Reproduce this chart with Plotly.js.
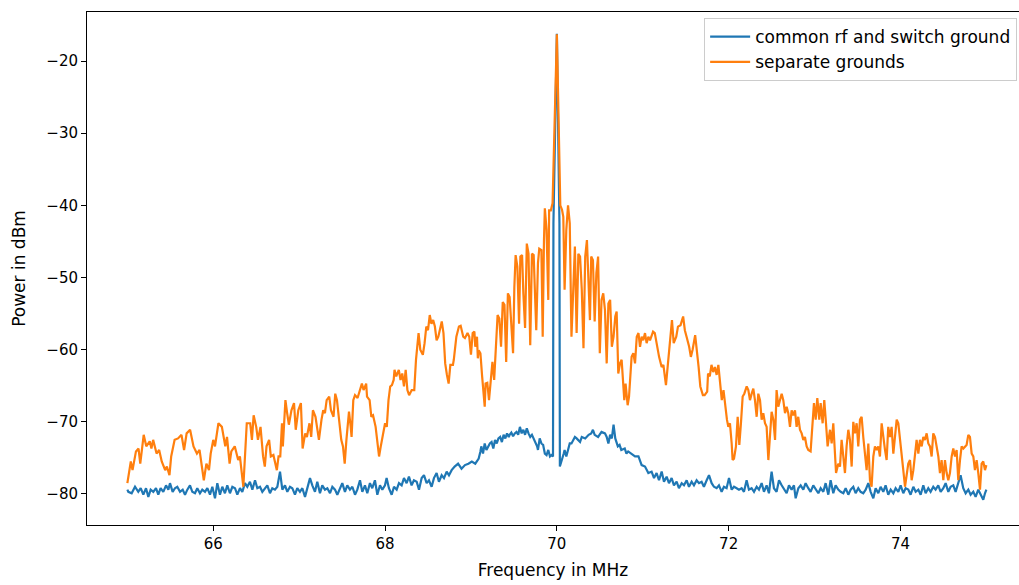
<!DOCTYPE html>
<html>
<head>
<meta charset="utf-8">
<script src="https://cdn.plot.ly/plotly-3.0.1.min.js"></script>
<style>html,body{margin:0;padding:0;background:#fff;}#chart{width:1019px;height:585px;}</style>
</head>
<body>
<div id="chart"></div>
<script>
// Series names
const seriesNames = ["common rf and switch ground", "separate grounds"];

// Series 1: common rf and switch ground (frequency in MHz, power in dBm)
const blueFreq = [65.000,65.011,65.050,65.089,65.127,65.155,65.186,65.217,65.244,65.271,65.302,65.333,65.360,65.387,65.418,65.450,65.477,65.496,65.527,65.554,65.581,65.613,65.644,65.671,65.698,65.729,65.756,65.787,65.814,65.845,65.872,65.904,65.931,65.962,65.989,66.020,66.047,66.078,66.105,66.136,66.163,66.194,66.222,66.253,66.280,66.311,66.338,66.369,66.396,66.427,66.455,66.486,66.513,66.544,66.571,66.602,66.629,66.660,66.687,66.718,66.746,66.777,66.804,66.835,66.862,66.893,66.920,66.951,66.978,67.009,67.037,67.068,67.095,67.126,67.153,67.184,67.211,67.242,67.269,67.300,67.328,67.359,67.386,67.417,67.444,67.475,67.502,67.533,67.560,67.591,67.619,67.650,67.677,67.708,67.735,67.766,67.793,67.824,67.851,67.882,67.910,67.941,67.968,67.999,68.018,68.045,68.077,68.104,68.135,68.162,68.193,68.220,68.251,68.278,68.309,68.336,68.368,68.395,68.426,68.453,68.484,68.511,68.542,68.569,68.600,68.627,68.659,68.686,68.717,68.744,68.775,
68.81,68.85,68.89,68.93,68.97,69.01,69.05,69.09,69.11,69.12,69.14,69.16,69.18,69.20,69.22,69.24,69.26,69.28,69.30,69.32,69.34,69.36,69.38,69.40,69.42,69.44,69.45,69.47,69.49,69.51,69.53,69.55,69.57,69.59,69.61,69.63,69.65,69.67,69.69,69.71,69.73,69.75,69.77,69.78,69.80,69.82,69.84,69.86,69.88,69.90,69.92,69.94,69.955,69.96,70.00,70.03,70.035,
70.08,70.09,70.11,70.13,70.15,70.17,70.19,70.21,70.23,70.25,70.27,70.29,70.33,70.37,70.40,70.42,70.44,70.48,70.52,70.56,70.58,70.60,70.62,70.64,70.66,70.68,70.70,70.71,70.73,70.75,70.79,70.81,70.83,70.87,70.91,70.95,70.987,
71.026,71.065,71.103,71.131,71.161,71.189,71.220,71.247,71.278,71.305,71.336,71.363,71.394,71.421,71.453,71.480,71.511,71.538,71.569,71.596,71.627,71.654,71.685,71.712,71.744,71.771,71.802,71.829,71.860,71.887,71.918,71.945,71.976,72.004,72.035,72.062,72.093,72.120,72.151,72.178,72.209,72.236,72.267,72.295,72.326,72.353,72.384,72.411,72.442,72.469,72.500,72.527,72.558,72.586,72.617,72.644,72.675,72.702,72.733,72.760,72.780,72.811,72.838,72.869,72.896,72.927,72.954,72.985,73.012,73.044,73.071,73.102,73.129,73.160,73.187,73.218,73.245,73.276,73.304,73.335,73.362,73.393,73.420,73.451,73.478,73.509,73.536,73.567,73.595,73.626,73.653,73.684,73.711,73.742,73.769,73.800,73.827,73.858,73.886,73.917,73.944,73.975,74.002,74.033,74.060,74.091,74.118,74.150,74.177,74.208,74.235,74.266,74.293,74.324,74.351,74.382,74.409,74.440,74.468,74.499,74.526,74.557,74.584,74.615,74.642,74.673,74.700,74.731,74.759,74.790,74.817,74.848,74.875,74.906,74.933,74.964,74.984,75.000];
const bluePower = [-79.4,-79.7,-79.9,-79.0,-79.7,-79.2,-80.1,-79.2,-80.4,-79.4,-79.7,-79.2,-80.1,-79.2,-79.7,-78.8,-79.4,-78.5,-79.7,-79.2,-79.0,-79.7,-79.4,-80.1,-79.4,-78.8,-79.7,-79.9,-79.2,-79.9,-79.4,-79.7,-79.2,-80.1,-79.0,-80.6,-78.5,-80.1,-79.0,-79.9,-78.8,-79.9,-79.0,-79.2,-80.1,-79.2,-79.7,-78.5,-79.0,-78.3,-79.4,-78.1,-79.2,-79.0,-79.7,-79.2,-78.8,-79.9,-79.2,-79.4,-79.0,-76.9,-79.4,-78.8,-79.7,-79.0,-79.2,-80.1,-79.2,-79.7,-79.2,-80.4,-79.2,-77.8,-78.8,-79.7,-78.3,-79.9,-78.8,-79.4,-79.2,-79.9,-79.0,-79.4,-80.1,-79.2,-78.5,-79.7,-78.8,-79.4,-79.0,-80.1,-79.4,-78.1,-79.7,-78.8,-79.9,-78.5,-79.2,-78.1,-80.1,-78.8,-79.4,-78.8,-77.8,-79.2,-80.1,-79.0,-79.4,-78.5,-78.8,-77.8,-78.5,-77.6,-78.8,-78.1,-78.3,-79.4,-77.8,-77.4,-78.5,-78.1,-79.0,-77.8,-77.1,-78.3,-77.4,-77.8,-76.9,-77.4,-76.7,
-76.2,-75.8,-76.5,-76.0,-75.8,-75.5,-75.8,-75.1,-74.1,-73.4,-74.4,-73.0,-73.9,-73.4,-73.0,-72.8,-73.7,-72.5,-73.0,-72.3,-72.1,-72.8,-71.8,-72.3,-71.6,-72.1,-71.8,-71.5,-72.0,-71.6,-71.4,-71.8,-70.7,-71.6,-71.1,-71.8,-70.9,-71.6,-72.1,-71.8,-72.3,-73.0,-73.4,-73.9,-72.3,-73.0,-73.2,-74.4,-74.6,-73.9,-74.8,-74.6,-74.8,-42.5,-16.2,-42.5,-76.2,
-74.4,-73.9,-74.8,-73.7,-73.0,-73.0,-72.5,-72.1,-72.3,-72.5,-72.8,-72.1,-72.3,-71.8,-71.6,-71.1,-71.8,-72.1,-71.4,-71.6,-72.1,-73.0,-71.8,-72.3,-70.4,-72.3,-73.0,-73.4,-73.2,-73.9,-73.7,-74.4,-74.1,-74.4,-74.8,-74.8,-76.0,
-76.2,-77.1,-76.9,-77.8,-77.1,-78.1,-76.9,-78.3,-77.6,-78.5,-77.8,-78.8,-78.3,-79.2,-78.5,-78.8,-78.1,-79.0,-78.3,-78.8,-78.1,-78.5,-78.3,-79.0,-78.1,-77.4,-78.5,-79.0,-79.2,-78.8,-79.7,-79.0,-79.2,-77.8,-79.4,-79.0,-79.2,-79.4,-79.2,-79.7,-78.1,-79.4,-79.2,-79.7,-79.0,-79.4,-78.5,-79.7,-78.8,-79.9,-76.9,-79.2,-79.7,-78.1,-78.8,-79.4,-79.9,-78.8,-79.4,-78.8,-80.6,-79.2,-78.8,-79.4,-78.5,-79.2,-79.7,-78.8,-79.4,-79.9,-79.2,-79.7,-78.5,-80.1,-78.1,-79.9,-78.8,-79.4,-79.7,-79.9,-79.2,-80.1,-79.4,-79.0,-79.9,-79.2,-79.7,-79.9,-79.4,-78.5,-79.7,-80.6,-79.2,-79.9,-79.0,-79.7,-78.8,-80.1,-79.4,-79.9,-79.2,-79.7,-78.8,-79.9,-79.2,-79.4,-80.1,-79.0,-79.7,-79.4,-80.1,-78.8,-79.9,-79.2,-79.7,-79.0,-79.4,-78.8,-79.7,-79.2,-78.5,-79.7,-79.0,-78.8,-79.7,-78.3,-77.4,-79.2,-79.9,-79.4,-80.1,-79.7,-80.4,-79.4,-80.1,-80.8,-79.9,-79.4];

// Series 2: separate grounds
const orangeFreq = [65.00,65.01,65.04,65.06,65.10,65.13,65.15,65.19,65.22,65.26,65.28,65.30,65.34,65.37,65.40,65.44,65.46,65.49,65.51,65.55,65.59,65.63,65.66,65.69,65.73,65.77,65.81,65.84,65.86,65.89,65.92,65.95,65.97,66.00,66.02,66.06,66.10,66.14,66.16,66.19,66.21,66.25,66.29,66.31,66.35,66.37,66.39,66.43,66.45,66.47,66.50,66.52,66.55,66.58,66.60,66.62,66.65,66.67,66.70,66.74,66.76,
66.78,66.80,66.81,66.84,66.86,66.88,66.91,66.94,66.96,66.99,67.02,67.04,67.07,67.09,67.12,67.14,67.16,67.19,67.21,67.23,67.26,67.28,67.30,67.32,67.35,67.37,67.40,67.42,67.44,67.47,67.49,67.51,67.53,67.55,67.58,67.60,67.61,67.63,67.65,67.68,67.71,67.73,67.75,67.78,67.79,67.82,67.84,67.86,67.89,67.91,67.93,67.95,67.98,68.00,68.02,68.04,68.06,68.08,68.10,68.11,68.13,68.16,68.18,68.20,68.22,68.24,68.26,68.28,68.31,68.34,68.36,68.38,68.39,68.41,68.44,68.46,68.48,68.50,68.52,68.54,68.56,68.58,68.60,68.62,68.64,68.66,68.68,68.70,68.72,68.74,68.76,68.79,68.80,68.83,68.86,
68.88,68.91,68.93,68.96,68.98,69.00,69.02,69.04,69.05,69.07,69.08,69.09,69.11,69.13,69.16,69.17,69.19,69.21,69.23,69.25,69.27,69.29,69.31,69.33,69.35,69.37,69.39,69.41,69.43,69.45,69.47,69.49,69.505,69.52,69.54,69.56,69.575,69.595,69.61,69.63,69.65,69.67,69.69,69.71,69.73,69.745,69.76,69.78,69.795,69.82,69.835,69.85,69.86,69.88,69.90,69.91,69.93,69.94,69.95,70.00,
70.04,70.06,70.075,70.09,70.11,70.13,70.15,70.17,70.19,70.21,70.23,70.25,70.27,70.29,70.31,70.33,70.35,70.37,70.385,70.40,70.42,70.44,70.46,70.48,70.50,70.52,70.54,70.56,70.58,70.60,70.62,70.64,70.66,70.68,70.696,70.715,70.735,70.754,70.774,70.785,70.80,70.824,70.84,70.855,70.87,70.89,70.91,70.93,70.95,70.968,70.987,71.006,71.026,71.045,71.065,
71.084,71.12,71.14,71.16,71.19,71.22,71.24,71.27,71.29,71.31,71.34,71.36,71.39,71.41,71.44,71.47,71.49,71.51,71.54,71.56,71.58,71.61,71.63,71.65,71.67,71.70,71.72,71.75,71.76,71.78,71.80,71.82,71.84,71.86,71.88,71.90,71.92,71.94,71.96,71.98,71.996,72.015,72.035,72.046,72.062,72.085,72.105,72.124,72.143,72.163,72.182,72.21,72.229,72.248,72.268,72.287,72.306,72.326,72.345,72.365,72.384,72.403,72.423,72.442,72.462,72.481,72.50,72.52,72.54,72.558,72.578,72.597,72.617,72.636,72.656,72.675,72.694,72.714,72.733,72.753,72.772,72.791,72.81,72.83,72.85,72.869,72.888,72.908,72.927,72.954,72.974,72.993,73.013,73.032,73.055,73.071,73.094,73.113,73.133,73.152,
73.18,73.199,73.218,73.25,73.276,73.296,73.315,73.335,73.354,73.373,73.393,73.412,73.432,73.451,73.47,73.49,73.509,73.529,73.548,73.567,73.587,73.606,73.626,73.645,73.664,73.684,73.703,73.723,73.742,73.761,73.781,73.80,73.82,73.839,73.858,73.878,73.897,73.917,73.936,73.956,73.975,73.994,74.014,74.033,74.053,74.072,74.091,74.111,74.13,74.15,74.169,74.188,74.208,74.227,74.247,74.266,74.285,74.305,74.324,74.344,74.363,74.382,74.402,74.421,74.441,74.46,74.479,74.499,74.518,74.538,74.557,74.576,74.596,74.615,74.635,74.654,74.673,74.693,74.712,74.732,74.751,74.77,74.79,74.809,74.829,74.848,74.867,74.887,74.906,74.926,74.945,74.964,74.984,75.00];
const orangePower = [-78.5,-77.8,-75.5,-76.7,-74.1,-73.7,-75.8,-71.8,-73.4,-72.7,-73.7,-72.5,-74.4,-73.9,-75.5,-76.7,-76.2,-77.4,-74.8,-72.5,-72.3,-71.8,-73.9,-71.6,-71.1,-73.4,-74.4,-73.9,-75.5,-78.1,-75.8,-76.7,-74.4,-72.5,-73.4,-70.2,-70.7,-73.4,-72.1,-75.8,-74.1,-73.4,-75.3,-74.8,-79.0,-74.8,-70.2,-70.2,-72.5,-69.1,-70.7,-72.5,-70.7,-74.8,-76.2,-73.4,-72.5,-74.8,-74.6,-76.7,-74.8,
-74.8,-70.2,-73.4,-67.0,-68.8,-70.4,-68.4,-67.4,-71.1,-68.4,-67.4,-73.7,-71.6,-72.1,-70.2,-72.1,-68.4,-69.3,-70.9,-72.5,-69.7,-68.4,-68.8,-67.0,-66.5,-68.4,-69.3,-66.1,-67.0,-70.7,-72.5,-73.4,-75.8,-72.5,-68.6,-70.7,-72.1,-67.0,-66.3,-66.7,-65.4,-64.7,-65.6,-64.7,-66.5,-67.0,-69.3,-69.1,-70.7,-73.0,-74.8,-73.4,-71.6,-70.2,-70.7,-67.0,-65.1,-64.9,-64.2,-62.8,-63.7,-62.8,-64.2,-63.3,-65.1,-62.8,-65.6,-66.3,-65.6,-65.6,-61.4,-58.2,-57.7,-60.0,-60.7,-59.1,-56.8,-57.3,-55.2,-56.4,-55.9,-56.8,-58.7,-58.2,-57.3,-56.1,-57.7,-61.9,-63.5,-64.7,-62.1,-62.1,-61.4,-58.2,-56.8,
-56.7,-58.2,-58.4,-57.7,-58.2,-60.7,-57.7,-57.5,-59.6,-58.2,-61.2,-60.1,-60.5,-63.7,-67.9,-64.7,-64.6,-67.0,-64.7,-61.7,-64.2,-59.6,-55.2,-55.7,-59.6,-53.4,-53.8,-61.7,-52.2,-52.7,-56.6,-60.5,-51.3,-46.9,-48.5,-56.4,-47.1,-46.9,-52.2,-57.0,-45.3,-46.7,-59.4,-46.7,-46.9,-51.7,-57.3,-48.0,-46.0,-46.2,-58.2,-44.8,-40.4,-43.4,-53.1,-40.7,-40.7,-40.2,-39.7,-16.3,
-40.0,-40.6,-41.6,-51.7,-43.4,-40.0,-42.5,-58.2,-51.3,-45.7,-57.7,-46.7,-47.1,-51.7,-59.8,-47.1,-44.8,-51.7,-55.9,-47.1,-47.6,-56.1,-49.4,-47.1,-60.5,-53.1,-52.2,-54.5,-61.9,-53.6,-53.1,-59.6,-58.2,-55.4,-54.7,-63.3,-61.9,-61.4,-64.7,-67.0,-64.7,-67.7,-66.5,-62.8,-61.0,-60.5,-61.9,-58.2,-57.7,-59.6,-58.2,-58.7,-57.7,-59.1,-58.2,
-58.7,-57.5,-57.7,-59.1,-61.0,-62.4,-62.1,-64.9,-62.4,-60.5,-55.9,-59.1,-58.2,-56.8,-56.6,-55.4,-57.3,-58.2,-59.6,-61.0,-60.0,-58.0,-60.0,-62.4,-65.1,-66.3,-66.3,-65.8,-63.3,-63.7,-62.1,-63.1,-62.4,-63.5,-62.1,-64.7,-67.0,-65.6,-67.9,-69.7,-70.7,-70.2,-73.0,-75.3,-75.1,-73.4,-69.3,-73.2,-70.2,-66.5,-66.1,-65.1,-65.6,-67.0,-66.1,-65.4,-67.0,-69.3,-66.1,-67.0,-69.7,-68.8,-70.2,-70.7,-75.3,-71.6,-68.6,-69.7,-72.5,-65.6,-67.9,-67.0,-66.1,-67.0,-68.8,-67.9,-68.8,-70.7,-68.4,-69.1,-68.4,-70.7,-69.3,-71.1,-71.6,-72.5,-72.1,-73.4,-73.9,-74.1,-69.7,-67.4,-69.7,-66.7,-69.7,-67.4,-70.2,-67.0,-70.2,-73.4,
-71.1,-73.0,-70.2,-77.1,-75.8,-76.2,-72.5,-75.3,-77.1,-73.4,-71.1,-72.5,-76.2,-70.0,-71.6,-70.2,-73.4,-69.7,-69.3,-72.1,-74.8,-76.7,-73.0,-78.1,-79.0,-74.8,-73.4,-73.9,-73.4,-74.8,-70.2,-72.5,-73.9,-75.3,-70.7,-72.1,-70.7,-74.4,-72.1,-69.7,-70.2,-72.1,-74.8,-76.7,-79.0,-77.1,-75.8,-75.3,-78.1,-76.7,-74.8,-72.5,-74.4,-72.5,-73.4,-72.1,-72.5,-71.6,-73.0,-73.4,-74.8,-71.6,-72.1,-73.4,-74.8,-77.1,-75.3,-78.1,-75.3,-77.1,-78.1,-77.1,-74.8,-73.7,-74.8,-73.9,-78.1,-75.3,-73.4,-73.7,-73.4,-73.2,-71.8,-72.1,-74.4,-74.8,-76.7,-75.3,-77.1,-79.4,-75.8,-75.5,-76.7,-76.0];

// Axis tick values
const xTicks = [66, 68, 70, 72, 74];
const yTicks = [-80, -70, -60, -50, -40, -30, -20];

const traces = [
  {x: blueFreq, y: bluePower, name: seriesNames[0], type: 'scatter', mode: 'lines',
   line: {color: '#1f77b4', width: 2.2}},
  {x: orangeFreq, y: orangePower, name: seriesNames[1], type: 'scatter', mode: 'lines',
   line: {color: '#ff7f0e', width: 2.2}}
];

const layout = {
  width: 1019, height: 585,
  margin: {l: 87, r: 0, t: 12, b: 60},
  paper_bgcolor: '#ffffff', plot_bgcolor: '#ffffff',
  font: {family: 'DejaVu Sans', size: 15, color: '#000'},
  showlegend: true,
  legend: {x: 0.998, xanchor: 'right', y: 0.988, yanchor: 'top',
    bgcolor: 'rgba(255,255,255,0.8)', bordercolor: '#cccccc', borderwidth: 1,
    itemwidth: 40,
    font: {family: 'DejaVu Sans', size: 17, color: '#000'}, tracegroupgap: 0},
  xaxis: {range: [64.53, 75.38], tickvals: xTicks, ticks: 'outside', ticklen: 5, tickwidth: 1,
    tickcolor: '#000', showline: true, linecolor: '#000', linewidth: 1, mirror: true,
    showgrid: false, zeroline: false, tickfont: {size: 15},
    title: {text: 'Frequency in MHz', font: {size: 17}, standoff: 12}},
  yaxis: {range: [-84.3, -13.2], tickvals: yTicks, ticks: 'outside', ticklen: 5, tickwidth: 1,
    tickcolor: '#000', showline: true, linecolor: '#000', linewidth: 1, mirror: false,
    showgrid: false, zeroline: false, tickfont: {size: 15},
    title: {text: 'Power in dBm', font: {size: 17}, standoff: 16}}
};

Plotly.newPlot('chart', traces, layout, {displayModeBar: false, staticPlot: true});
</script>
</body>
</html>
